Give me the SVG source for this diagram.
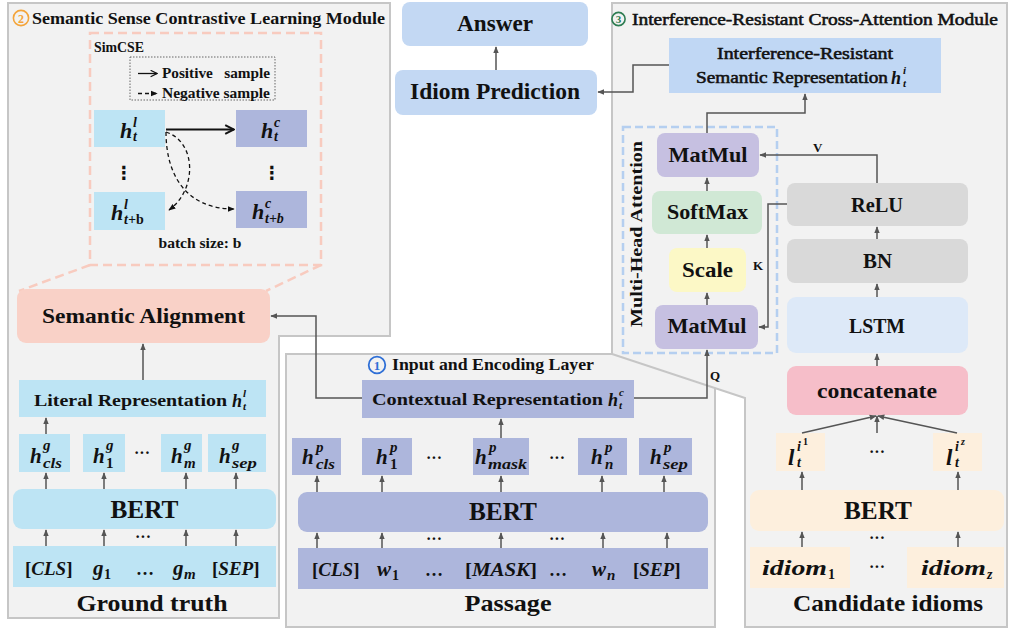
<svg xmlns="http://www.w3.org/2000/svg" width="1010" height="630" viewBox="0 0 1010 630">
  <defs>
    <marker id="arr" markerUnits="userSpaceOnUse" markerWidth="7" markerHeight="7" viewBox="0 0 10 10" refX="9" refY="5" orient="auto">
      <path d="M0,1 L10,5 L0,9 Z" fill="#555"/>
    </marker>
    <marker id="arrPos" markerUnits="userSpaceOnUse" markerWidth="11" markerHeight="11" viewBox="0 0 10 10" refX="9" refY="5" orient="auto">
      <path d="M1,1 L9,5 L1,9" fill="none" stroke="#111" stroke-width="1.8"/>
    </marker>
    <marker id="arrNeg" markerUnits="userSpaceOnUse" markerWidth="7" markerHeight="7" viewBox="0 0 10 10" refX="9" refY="5" orient="auto">
      <path d="M0,1 L10,5 L0,9 Z" fill="#111"/>
    </marker>
    <marker id="arrLeg" markerUnits="userSpaceOnUse" markerWidth="8" markerHeight="8" viewBox="0 0 10 10" refX="9" refY="5" orient="auto">
      <path d="M1,1 L9,5 L1,9" fill="none" stroke="#111" stroke-width="1.5"/>
    </marker>
  </defs>
  <style>
    .panel{fill:#f2f2f2;stroke:#c6c6c6;stroke-width:2}
    .c{fill:none;stroke:#555;stroke-width:1.5;marker-end:url(#arr)}
    .zoomline{fill:none;stroke:#f8cbbf;stroke-width:2.5;stroke-dasharray:9 5}
    text{font-family:"Liberation Serif","Times New Roman",serif;fill:#111}
    .b{font-weight:bold}
    .md{font-weight:normal;stroke:#111;stroke-width:0.55}
    .i{font-style:italic;font-weight:bold}
    .up{font-style:normal}
    .mid{text-anchor:middle}
    .gt{fill:#bde4f4}
    .ps{fill:#adb6dc}
    .cd{fill:#fdefdd}
    .grey{fill:#d9d9d9}
    .dots{font-weight:bold;font-size:16px;text-anchor:middle}
  </style>

  <rect width="1010" height="630" fill="#ffffff"/>

  <!-- panels -->
  <path class="panel" d="M8,3 H390 V336 H279 V618 H8 Z"/>
  <rect class="panel" x="286" y="354" width="429" height="273"/>
  <path class="panel" d="M612,3 H1007 V627 H745 V398 L612,354 Z"/>

  <!-- panel titles -->
  <g id="title-contrastive">
    <circle cx="21" cy="18" r="7.6" fill="none" stroke="#f4a43a" stroke-width="1.6"/>
    <text x="21" y="22.5" class="b mid" font-size="12" style="fill:#f4a43a">2</text>
    <text x="32" y="24" class="b" font-size="17" textLength="353" lengthAdjust="spacingAndGlyphs">Semantic Sense Contrastive Learning Module</text>
  </g>
  <g id="title-encoding">
    <circle cx="377" cy="365" r="8.3" fill="none" stroke="#2f6fd6" stroke-width="1.8"/>
    <text x="377" y="370" class="b mid" font-size="13" style="fill:#2f6fd6">1</text>
    <text x="392" y="370" class="b" font-size="17" textLength="202" lengthAdjust="spacingAndGlyphs">Input and Encoding Layer</text>
  </g>
  <g id="title-attention">
    <circle cx="618.5" cy="19" r="6.6" fill="none" stroke="#2e7d52" stroke-width="1.6"/>
    <text x="618.5" y="23" class="b mid" font-size="11" style="fill:#2e7d52">3</text>
    <text x="632" y="25" class="md" font-size="17" textLength="366" lengthAdjust="spacingAndGlyphs">Interference-Resistant Cross-Attention Module</text>
  </g>

  <!-- SimCSE inset -->
  <g id="simcse">
    <rect x="90" y="33" width="231" height="232" fill="none" stroke="#f8cbbf" stroke-width="2.5" stroke-dasharray="9 5"/>
    <text x="94" y="52" class="b" font-size="14" textLength="50" lengthAdjust="spacingAndGlyphs">SimCSE</text>
    <g id="legend">
      <rect x="130" y="57" width="145" height="43" fill="none" stroke="#666" stroke-width="1" stroke-dasharray="1.5 1.5"/>
      <path d="M138,73.5 H157" fill="none" stroke="#111" stroke-width="1.3" marker-end="url(#arrLeg)"/>
      <path d="M138,93.5 H157" fill="none" stroke="#111" stroke-width="1.3" stroke-dasharray="4 3" marker-end="url(#arrNeg)"/>
      <text x="162" y="78" class="b" font-size="14" textLength="108" lengthAdjust="spacingAndGlyphs" xml:space="preserve">Positive   sample</text>
      <text x="162" y="98" class="b" font-size="14" textLength="108" lengthAdjust="spacingAndGlyphs">Negative sample</text>
    </g>
    <g id="s-hl">
      <rect x="94" y="110" width="71" height="37" class="gt"/>
      <text class="i" font-size="22"><tspan x="120" y="138">h</tspan><tspan x="133" y="127" font-size="14">l</tspan><tspan x="133" y="141" font-size="14">t</tspan></text>
    </g>
    <g id="s-hc">
      <rect x="236" y="110" width="71" height="37" class="ps"/>
      <text class="i" font-size="22"><tspan x="261" y="138">h</tspan><tspan x="274" y="127" font-size="14">c</tspan><tspan x="274" y="141" font-size="14">t</tspan></text>
    </g>
    <text x="124" y="179" class="mid b" font-size="18" style="font-family:'DejaVu Sans',sans-serif">⋮</text>
    <text x="272" y="179" class="mid b" font-size="18" style="font-family:'DejaVu Sans',sans-serif">⋮</text>
    <g id="s-hlb">
      <rect x="94" y="192" width="71" height="38" class="gt"/>
      <text class="i" font-size="22"><tspan x="111" y="220">h</tspan><tspan x="124" y="209" font-size="14">l</tspan><tspan x="124" y="224" font-size="14">t+<tspan class="up">b</tspan></tspan></text>
    </g>
    <g id="s-hcb">
      <rect x="236" y="191" width="71" height="37" class="ps"/>
      <text class="i" font-size="22"><tspan x="252" y="219">h</tspan><tspan x="265" y="208" font-size="14">c</tspan><tspan x="265" y="223" font-size="14">t+b</tspan></text>
    </g>
    <text x="200" y="248" class="b mid" font-size="14" textLength="83" lengthAdjust="spacingAndGlyphs">batch size: b</text>
    <path d="M166,129.5 H234" fill="none" stroke="#111" stroke-width="2.2" marker-end="url(#arrPos)"/>
    <path d="M166,132 C197,142 197,190 169,210" fill="none" stroke="#111" stroke-width="1.3" stroke-dasharray="4 3" marker-end="url(#arrNeg)"/>
    <path d="M166,132 C166,175 186,209 234,209" fill="none" stroke="#111" stroke-width="1.3" stroke-dasharray="4 3" marker-end="url(#arrNeg)"/>
  </g>

  <!-- zoom-out lines from the SimCSE inset to Semantic Alignment -->
  <path class="zoomline" d="M90,265 L19,291"/>
  <path class="zoomline" d="M321,265 L266,291"/>

  <!-- ground truth column -->
  <g id="semantic-alignment">
    <rect x="17" y="289" width="253" height="54" rx="9" fill="#f9d1c7"/>
    <text x="143.5" y="323" class="b mid" font-size="21" textLength="203" lengthAdjust="spacingAndGlyphs">Semantic Alignment</text>
  </g>
  <g id="literal-rep">
    <rect x="19" y="380" width="247" height="37" class="gt"/>
    <text x="34" y="406" class="b" font-size="16" textLength="193" lengthAdjust="spacingAndGlyphs">Literal Representation</text>
    <text class="i" font-size="18"><tspan x="232" y="407">h</tspan><tspan x="243" y="397" font-size="11">l</tspan><tspan x="243" y="410" font-size="11">t</tspan></text>
  </g>
  <g id="gt-h-cls">
    <rect x="19" y="434" width="51" height="38" class="gt"/>
    <text class="i" font-size="21"><tspan x="30" y="463">h</tspan><tspan x="43" y="450" font-size="15">g</tspan><tspan x="43" y="468" font-size="15" textLength="19" lengthAdjust="spacingAndGlyphs">cls</tspan></text>
  </g>
  <g id="gt-h-1">
    <rect x="83" y="434" width="42" height="38" class="gt"/>
    <text class="i" font-size="21"><tspan x="93" y="463">h</tspan><tspan x="106" y="450" font-size="15">g</tspan><tspan x="106" y="468" font-size="15" class="up">1</tspan></text>
  </g>
  <text x="142" y="458" class="dots">···</text>
  <g id="gt-h-m">
    <rect x="161" y="434" width="41" height="38" class="gt"/>
    <text class="i" font-size="21"><tspan x="171" y="463">h</tspan><tspan x="184" y="450" font-size="15">g</tspan><tspan x="184" y="468" font-size="15">m</tspan></text>
  </g>
  <g id="gt-h-sep">
    <rect x="208" y="434" width="58" height="38" class="gt"/>
    <text class="i" font-size="21"><tspan x="219" y="463">h</tspan><tspan x="232" y="450" font-size="15">g</tspan><tspan x="232" y="468" font-size="15" textLength="25" lengthAdjust="spacingAndGlyphs">sep</tspan></text>
  </g>
  <g id="gt-bert">
    <rect x="13" y="489" width="263" height="40" rx="9" class="gt"/>
    <text x="144.5" y="518" class="b mid" font-size="26" textLength="68" lengthAdjust="spacingAndGlyphs">BERT</text>
  </g>
  <text x="143" y="542" class="dots">···</text>
  <g id="gt-input">
    <rect x="13" y="546" width="263" height="41" class="gt"/>
    <text x="25" y="575" font-size="19" class="b">[<tspan class="i">CLS</tspan>]</text>
    <text class="i" font-size="21"><tspan x="93" y="575">g</tspan><tspan x="104" y="579" font-size="14" class="up">1</tspan></text>
    <text x="145" y="575" class="b mid" font-size="18" textLength="22" lengthAdjust="spacing">…</text>
    <text class="i" font-size="21"><tspan x="173" y="575">g</tspan><tspan x="184" y="579" font-size="15">m</tspan></text>
    <text x="212" y="575" font-size="19" class="b">[<tspan class="i">SEP</tspan>]</text>
  </g>
  <text x="152" y="611" class="b mid" font-size="24" textLength="151" lengthAdjust="spacingAndGlyphs">Ground truth</text>

  <!-- passage column -->
  <g id="contextual-rep">
    <rect x="362" y="380" width="272" height="38" class="ps"/>
    <text x="372" y="405" class="b" font-size="17" textLength="231" lengthAdjust="spacingAndGlyphs">Contextual Representation</text>
    <text class="i" font-size="18"><tspan x="608" y="406">h</tspan><tspan x="619" y="396" font-size="11">c</tspan><tspan x="619" y="409" font-size="11">t</tspan></text>
  </g>
  <g id="ps-h-cls">
    <rect x="292" y="438" width="49" height="37" class="ps"/>
    <text class="i" font-size="21"><tspan x="302" y="464">h</tspan><tspan x="316" y="452" font-size="15">p</tspan><tspan x="316" y="469" font-size="15" textLength="19" lengthAdjust="spacingAndGlyphs">cls</tspan></text>
  </g>
  <g id="ps-h-1">
    <rect x="362" y="438" width="50" height="37" class="ps"/>
    <text class="i" font-size="21"><tspan x="376" y="464">h</tspan><tspan x="390" y="452" font-size="15">p</tspan><tspan x="390" y="469" font-size="15" class="up">1</tspan></text>
  </g>
  <text x="434" y="463" class="dots">···</text>
  <g id="ps-h-mask">
    <rect x="473" y="438" width="56" height="37" class="ps"/>
    <text class="i" font-size="21"><tspan x="475" y="464">h</tspan><tspan x="489" y="452" font-size="15">p</tspan><tspan x="488" y="469" font-size="15" textLength="39" lengthAdjust="spacingAndGlyphs">mask</tspan></text>
  </g>
  <text x="557" y="463" class="dots">···</text>
  <g id="ps-h-n">
    <rect x="578" y="438" width="49" height="37" class="ps"/>
    <text class="i" font-size="21"><tspan x="591" y="464">h</tspan><tspan x="605" y="452" font-size="15">p</tspan><tspan x="605" y="469" font-size="15">n</tspan></text>
  </g>
  <g id="ps-h-sep">
    <rect x="639" y="438" width="53" height="37" class="ps"/>
    <text class="i" font-size="21"><tspan x="650" y="464">h</tspan><tspan x="664" y="452" font-size="15">p</tspan><tspan x="663" y="469" font-size="15" textLength="25" lengthAdjust="spacingAndGlyphs">sep</tspan></text>
  </g>
  <g id="ps-bert">
    <rect x="298" y="492" width="410" height="40" rx="9" class="ps"/>
    <text x="503" y="520" class="b mid" font-size="26" textLength="68" lengthAdjust="spacingAndGlyphs">BERT</text>
  </g>
  <text x="434" y="544" class="dots">···</text>
  <text x="557" y="544" class="dots">···</text>
  <g id="ps-input">
    <rect x="298" y="548" width="410" height="41" class="ps"/>
    <text x="312" y="576" font-size="19" class="b">[<tspan class="i">CLS</tspan>]</text>
    <text class="i" font-size="21"><tspan x="377" y="576">w</tspan><tspan x="392" y="580" font-size="14" class="up">1</tspan></text>
    <text x="434" y="576" class="b mid" font-size="18" textLength="22" lengthAdjust="spacing">…</text>
    <text x="465" y="576" font-size="19" class="b" textLength="72" lengthAdjust="spacingAndGlyphs">[<tspan class="i">MASK</tspan>]</text>
    <text x="558" y="576" class="b mid" font-size="18" textLength="22" lengthAdjust="spacing">…</text>
    <text class="i" font-size="21"><tspan x="592" y="576">w</tspan><tspan x="607" y="580" font-size="15">n</tspan></text>
    <text x="633" y="576" font-size="19" class="b">[<tspan class="i">SEP</tspan>]</text>
  </g>
  <text x="508" y="611" class="b mid" font-size="24" textLength="87" lengthAdjust="spacingAndGlyphs">Passage</text>

  <!-- prediction head -->
  <g id="answer">
    <rect x="402" y="2" width="186" height="44" rx="8" fill="#c3d8f3"/>
    <text x="495" y="31" class="b mid" font-size="23" textLength="76" lengthAdjust="spacingAndGlyphs">Answer</text>
  </g>
  <g id="idiom-prediction">
    <rect x="395" y="70" width="202" height="45" rx="8" fill="#c3d8f3"/>
    <text x="495" y="99" class="b mid" font-size="23" textLength="170" lengthAdjust="spacingAndGlyphs">Idiom Prediction</text>
  </g>

  <!-- cross-attention module -->
  <g id="ir-rep">
    <rect x="669" y="38" width="272" height="55" fill="#c0d7f4"/>
    <text x="805" y="59" class="md mid" font-size="17" textLength="176" lengthAdjust="spacingAndGlyphs">Interference-Resistant</text>
    <text x="696" y="83" class="md" font-size="17" textLength="192" lengthAdjust="spacingAndGlyphs">Semantic Representation</text>
    <text class="i" font-size="18"><tspan x="891" y="84">h</tspan><tspan x="903" y="74" font-size="11">i</tspan><tspan x="903" y="87" font-size="11">t</tspan></text>
  </g>
  <g id="multi-head">
    <rect x="623" y="127" width="154" height="226" fill="none" stroke="#b5cff0" stroke-width="2.5" stroke-dasharray="8 4"/>
    <text transform="translate(642,234) rotate(-90)" class="b mid" font-size="16" textLength="186" lengthAdjust="spacingAndGlyphs">Multi-Head Attention</text>
  </g>
  <g id="matmul-top">
    <rect x="657" y="133" width="102" height="44" rx="8" fill="#c6c0e1"/>
    <text x="708" y="162" class="b mid" font-size="22" textLength="79" lengthAdjust="spacingAndGlyphs">MatMul</text>
  </g>
  <g id="softmax">
    <rect x="652" y="191" width="110" height="43" rx="8" fill="#d0e8d5"/>
    <text x="707.5" y="219" class="b mid" font-size="22" textLength="81" lengthAdjust="spacingAndGlyphs">SoftMax</text>
  </g>
  <g id="scale">
    <rect x="669" y="248" width="77" height="44" rx="8" fill="#fcf8c6"/>
    <text x="707.5" y="277" class="b mid" font-size="22" textLength="51" lengthAdjust="spacingAndGlyphs">Scale</text>
  </g>
  <g id="matmul-bottom">
    <rect x="655" y="305" width="103" height="44" rx="8" fill="#c6c0e1"/>
    <text x="707" y="333" class="b mid" font-size="22" textLength="79" lengthAdjust="spacingAndGlyphs">MatMul</text>
  </g>
  <g id="relu">
    <rect x="787" y="183" width="181" height="43" rx="8" class="grey"/>
    <text x="877" y="212" class="b mid" font-size="22" textLength="52" lengthAdjust="spacingAndGlyphs">ReLU</text>
  </g>
  <g id="bn">
    <rect x="787" y="239" width="181" height="44" rx="8" class="grey"/>
    <text x="877.5" y="268" class="b mid" font-size="22" textLength="29" lengthAdjust="spacingAndGlyphs">BN</text>
  </g>
  <g id="lstm">
    <rect x="787" y="297" width="181" height="56" rx="9" fill="#dde9f8"/>
    <text x="877" y="333" class="b mid" font-size="22" textLength="56" lengthAdjust="spacingAndGlyphs">LSTM</text>
  </g>
  <g id="concatenate">
    <rect x="787" y="366" width="181" height="49" rx="9" fill="#f6bec9"/>
    <text x="877" y="398" class="b mid" font-size="22" textLength="120" lengthAdjust="spacingAndGlyphs">concatenate</text>
  </g>
  <g id="cd-l-1">
    <rect x="776" y="433" width="49" height="38" class="cd"/>
    <text class="i" font-size="23"><tspan x="788" y="465">l</tspan><tspan x="797" y="451" font-size="14">i</tspan><tspan x="803" y="445" font-size="10" class="up">1</tspan><tspan x="797" y="467" font-size="14">t</tspan></text>
  </g>
  <text x="877" y="457" class="dots">···</text>
  <g id="cd-l-z">
    <rect x="933" y="433" width="49" height="38" class="cd"/>
    <text class="i" font-size="23"><tspan x="946" y="465">l</tspan><tspan x="955" y="451" font-size="14">i</tspan><tspan x="961" y="445" font-size="10">z</tspan><tspan x="955" y="467" font-size="14">t</tspan></text>
  </g>
  <g id="cd-bert">
    <rect x="750" y="490" width="254" height="41" rx="9" class="cd"/>
    <text x="878" y="519" class="b mid" font-size="26" textLength="68" lengthAdjust="spacingAndGlyphs">BERT</text>
  </g>
  <text x="877" y="543" class="dots">···</text>
  <g id="cd-idiom-1">
    <rect x="750" y="547" width="100" height="41" class="cd"/>
    <text class="i" font-size="21"><tspan x="762" y="575" textLength="65" lengthAdjust="spacingAndGlyphs">idiom</tspan><tspan x="828" y="579" font-size="14" class="up">1</tspan></text>
  </g>
  <text x="877" y="572" class="dots">···</text>
  <g id="cd-idiom-z">
    <rect x="907" y="547" width="97" height="41" class="cd"/>
    <text class="i" font-size="21"><tspan x="921" y="575" textLength="65" lengthAdjust="spacingAndGlyphs">idiom</tspan><tspan x="987" y="579" font-size="14">z</tspan></text>
  </g>
  <text x="888" y="611" class="b mid" font-size="24" textLength="190" lengthAdjust="spacingAndGlyphs">Candidate idioms</text>

  <!-- connectors -->
  <g id="connectors">
    <path class="c" d="M143,380 V344"/>
    <path class="c" d="M46,434 V418"/>
    <path class="c" d="M46,489 V473"/>
    <path class="c" d="M104,489 V473"/>
    <path class="c" d="M186,489 V473"/>
    <path class="c" d="M236,489 V473"/>
    <path class="c" d="M46,546 V530"/>
    <path class="c" d="M104,546 V530"/>
    <path class="c" d="M186,546 V530"/>
    <path class="c" d="M236,546 V530"/>

    <path class="c" d="M362,398 H316 V316 H271"/>
    <path class="c" d="M501,438 V419"/>
    <path class="c" d="M317,492 V476"/>
    <path class="c" d="M382,492 V476"/>
    <path class="c" d="M501,492 V476"/>
    <path class="c" d="M602,492 V476"/>
    <path class="c" d="M664,492 V476"/>
    <path class="c" d="M317,548 V533"/>
    <path class="c" d="M382,548 V533"/>
    <path class="c" d="M501,548 V533"/>
    <path class="c" d="M603,548 V533"/>
    <path class="c" d="M667,548 V533"/>
    <path class="c" d="M634,398 H707 V350"/>

    <path class="c" d="M496,70 V47"/>
    <path class="c" d="M669,65 H633 V92 H598"/>
    <path class="c" d="M707,133 V113 H805 V94"/>
    <path class="c" d="M707,191 V178"/>
    <path class="c" d="M707,248 V235"/>
    <path class="c" d="M707,305 V293"/>
    <path class="c" d="M877,183 V155 H760"/>
    <path class="c" d="M787,204 H768 V327 H759"/>
    <path class="c" d="M877,239 V227"/>
    <path class="c" d="M877,297 V284"/>
    <path class="c" d="M877,366 V354"/>
    <path class="c" d="M802,433 L876,416"/>
    <path class="c" d="M877,433 V416"/>
    <path class="c" d="M957,433 L878,416"/>
    <path class="c" d="M802,490 V472"/>
    <path class="c" d="M958,490 V472"/>
    <path class="c" d="M802,547 V532"/>
    <path class="c" d="M958,547 V532"/>

    <text x="710" y="380" class="b" font-size="13">Q</text>
    <text x="813" y="152" class="b" font-size="13">V</text>
    <text x="753" y="270" class="b" font-size="13">K</text>
  </g>
</svg>
